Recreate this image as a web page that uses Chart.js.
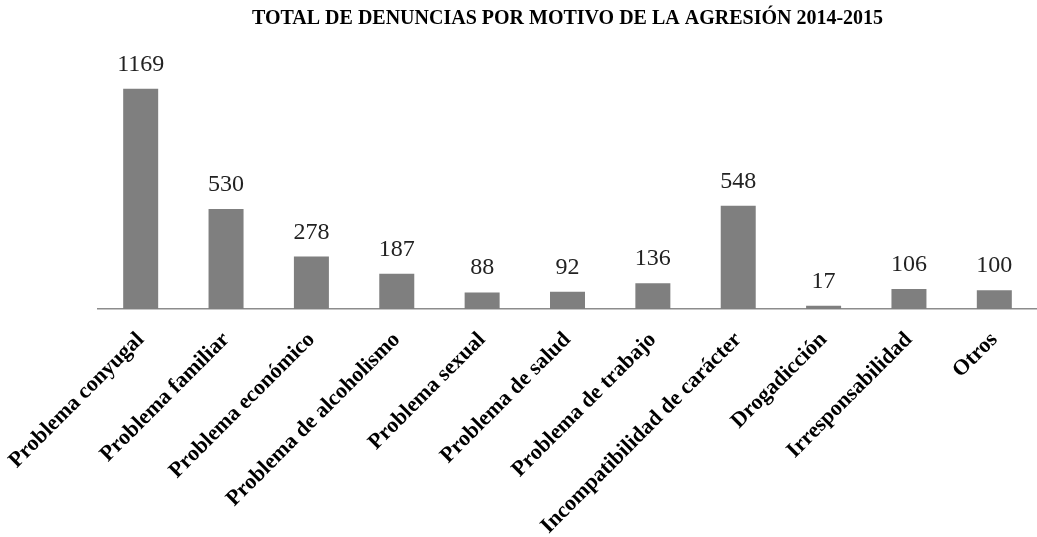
<!DOCTYPE html>
<html>
<head>
<meta charset="utf-8">
<script src="https://cdn.jsdelivr.net/npm/chart.js@4/dist/chart.umd.min.js"></script>
<style>
  body { margin: 0; background: #fff; }
  #wrap { width: 1037px; height: 537px; }
</style>
</head>
<body>
<div id="wrap"><canvas id="grafico" width="1037" height="537"></canvas></div>
<script>
// Datos del gráfico
const categorias = [
    "Problema conyugal", "Problema familiar", "Problema económico",
    "Problema de alcoholismo", "Problema sexual", "Problema de salud",
    "Problema de trabajo", "Incompatibilidad de carácter", "Drogadicción",
    "Irresponsabilidad", "Otros"
];
const denuncias = [1169, 530, 278, 187, 88, 92, 136, 548, 17, 106, 100];
const titulo = "TOTAL DE DENUNCIAS POR MOTIVO DE LA AGRESIÓN 2014-2015";

// Etiquetas de valor encima de cada barra
const etiquetasValor = {
    id: 'etiquetasValor',
    afterDatasetsDraw(chart) {
        const ctx = chart.ctx;
        const meta = chart.getDatasetMeta(0);
        ctx.save();
        ctx.font = '24px "Liberation Serif", "Times New Roman", serif';
        ctx.fillStyle = '#222';
        ctx.textAlign = 'center';
        ctx.textBaseline = 'alphabetic';
        meta.data.forEach((bar, i) => {
            ctx.fillText(String(denuncias[i]), bar.x, bar.y - 18);
        });
        ctx.restore();
    }
};

const ctx = document.getElementById('grafico').getContext('2d');
new Chart(ctx, {
    type: 'bar',
    data: {
        labels: categorias,
        datasets: [{
            label: 'Denuncias',
            data: denuncias,
            backgroundColor: '#7f7f7f',
            barPercentage: 0.41,
            categoryPercentage: 1
        }]
    },
    options: {
        responsive: false,
        animation: false,
        layout: { padding: { left: 98, right: 0, top: 0, bottom: 0 } },
        scales: {
            x: {
                grid: { display: false },
                border: { display: true, color: '#8c8c8c', width: 1.5 },
                ticks: {
                    color: '#000',
                    minRotation: 45,
                    maxRotation: 45,
                    autoSkip: false,
                    padding: 10,
                    font: { family: '"Liberation Serif", "Times New Roman", serif', size: 22, weight: 'bold' }
                },
                afterFit: (s) => {
                    s.height = 228;
                    s.paddingLeft = 0;
                    s.paddingRight = 0;
                }
            },
            y: {
                display: false,
                min: 0,
                max: 1300
            }
        },
        plugins: {
            legend: { display: false },
            tooltip: { enabled: false },
            title: {
                display: true,
                text: titulo,
                color: '#000',
                font: { family: '"Liberation Serif", "Times New Roman", serif', size: 20, weight: 'bold' },
                padding: { top: 7, bottom: 33 }
            }
        }
    },
    plugins: [etiquetasValor]
});
</script>
</body>
</html>
